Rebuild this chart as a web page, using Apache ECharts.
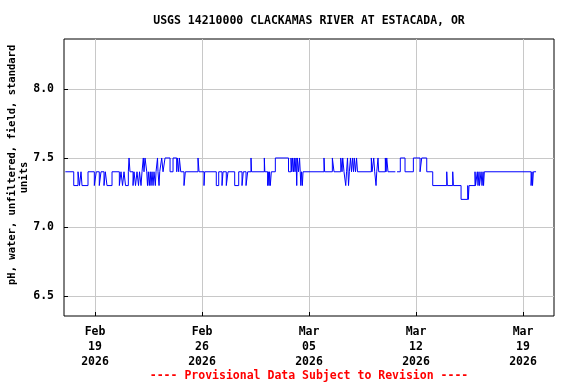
<!DOCTYPE html>
<html>
<head>
<meta charset="utf-8">
<script src="https://cdn.jsdelivr.net/npm/echarts@6/dist/echarts.min.js"></script>
<style>html,body{margin:0;padding:0;background:#fff;}#c{width:576px;height:384px;}</style>
</head>
<body>
<div id="c"></div>
<script>
// Base time: 2026-02-17 00:00; times are hours since base
const baseDate = '2026-02-17T00:00:00';
const hours = [1.4,14.6,21.3,23.7,26.0,27.6,37.0,46.9,50.0,54.7,57.4,62.1,64.2,66.8,74.7,86.2,88.8,91.2,93.5,95.9,
100.3,101.4,102.9,107.7,109.2,111.6,113.9,116.3,117.9,120.2,121.8,123.8,124.9,126.5,129.2,130.4,131.7,133.2,134.7,135.9,
137.5,139.1,140.6,142.7,143.8,146.1,146.9,148.5,149.6,152.7,154.8,157.9,165.8,170.5,176.3,177.2,179.4,180.4,182.6,187.7,
189.8,209.7,211.3,219.1,220.2,238.4,242.2,247.4,249.0,254.1,256.8,267.3,273.6,278.8,280.8,285.1,287.7,292.9,293.7,313.8,
314.6,319.1,319.9,321.2,322.0,323.2,324.8,331.1,351.8,355.7,357.0,358.1,359.7,360.8,362.0,363.6,364.7,365.6,367.5,369.1,
370.2,371.1,372.2,373.5,374.6,407.5,408.5,420.6,423.2,433.8,435.8,436.9,438.9,441.6,442.9,444.4,446.0,447.3,449.1,450.7,
452.3,453.9,455.1,457.0,458.6,460.1,481.8,482.9,485.6,487.1,489.2,490.3,492.3,493.4,503.8,504.9,506.0,508.0,519.5,520.0,
522.2,527.3,534.7,547.8,558.3,560.9,568.8,578.2,600.2,601.1,609.6,610.6,622.7,633.2,634.1,635.2,644.6,645.4,648.2,649.3,
650.9,651.7,654.1,655.6,657.2,658.0,659.2,732.6,734.1,734.9,736.2,740.4];
const phValues = [7.4,7.3,7.4,7.3,7.4,7.3,7.4,7.3,7.4,7.3,7.4,7.3,7.4,7.3,7.4,7.3,7.4,7.3,7.4,7.3,
7.4,7.5,7.4,7.3,7.4,7.3,7.4,7.3,7.4,7.3,7.4,7.5,7.4,7.5,7.4,7.3,7.4,7.3,7.4,7.3,
7.4,7.3,7.4,7.3,7.4,7.5,7.4,7.3,7.4,7.5,7.4,7.5,7.4,7.5,7.4,7.5,7.4,7.5,7.4,7.3,
7.4,7.5,7.4,7.3,7.4,7.3,7.4,7.3,7.4,7.3,7.4,7.3,7.4,7.3,7.4,7.3,7.4,7.5,7.4,7.5,
7.4,7.3,7.4,7.3,7.4,7.3,7.4,7.5,7.4,7.5,7.4,7.5,7.4,7.5,7.4,7.5,7.3,7.5,7.4,7.5,
7.4,7.3,7.4,7.3,7.4,7.5,7.4,7.5,7.4,7.5,7.4,7.5,7.4,7.3,7.4,7.5,7.3,7.4,7.5,7.4,
7.5,7.4,7.5,7.4,7.5,7.4,7.5,7.4,7.5,7.4,7.3,7.4,7.5,7.4,7.5,7.4,7.5,7.4,7.4,null,
7.4,7.5,7.4,7.5,7.4,7.5,7.4,7.3,7.4,7.3,7.4,7.3,7.2,7.3,7.2,7.3,7.4,7.3,7.4,7.3,
7.4,7.3,7.4,7.3,7.4,7.3,7.4,7.3,7.4,7.3,7.4,7.4];
const xTickDates = ['2026-02-19','2026-02-26','2026-03-05','2026-03-12','2026-03-19'];
const yTicks = [6.5, 7.0, 7.5, 8.0];
const titleText = 'USGS 14210000 CLACKAMAS RIVER AT ESTACADA, OR';
const yName = '    pH, water, unfiltered, field, standard\nunits';
const footer = '---- Provisional Data Subject to Revision ----';

const HOUR = 3600 * 1000;
const t0 = new Date(baseDate).getTime();
const seriesData = hours.map((h, i) => [t0 + h * HOUR, phValues[i]]);
const xTicks = xTickDates.map(d => new Date(d + 'T00:00:00').getTime());
const MON = ['Jan','Feb','Mar','Apr','May','Jun','Jul','Aug','Sep','Oct','Nov','Dec'];
const font = 'DejaVu Sans Mono';

const chart = echarts.init(document.getElementById('c'), null, {renderer: 'canvas'});
chart.setOption({
  animation: false,
  backgroundColor: '#fff',
  graphic: [{
    type: 'text', x: 309, y: 21,
    style: {text: titleText, fill: '#000', font: 'bold 11.5px "DejaVu Sans Mono"', align: 'center', verticalAlign: 'middle'}
  }, {
    type: 'text', x: 309, y: 376,
    style: {text: footer, fill: '#ff0000', font: 'bold 11.5px "DejaVu Sans Mono"', align: 'center', verticalAlign: 'middle'}
  }],
  grid: {left: 64, right: 22, top: 39, bottom: 68, show: true, borderColor: '#000', borderWidth: 1,
         backgroundColor: 'transparent', containLabel: false, outerBoundsMode: 'none'},
  xAxis: {
    type: 'value',
    min: t0 - 0.7 * HOUR, max: t0 + 768.6 * HOUR,
    axisLine: {show: false},
    axisTick: {show: true, customValues: xTicks, length: 4, inside: true, lineStyle: {color: '#000'}},
    axisLabel: {
      customValues: xTicks, margin: 9, lineHeight: 15,
      fontFamily: font, fontSize: 11.5, fontWeight: 'bold', color: '#000',
      formatter: v => { const d = new Date(v); return MON[d.getMonth()] + '\n' + String(d.getDate()).padStart(2,'0') + '\n' + d.getFullYear(); }
    },
    splitLine: {show: true, lineStyle: {color: '#c8c8c8', width: 1}}
  },
  yAxis: {
    type: 'value', min: 6.355, max: 8.362,
    name: yName, nameLocation: 'middle', nameRotate: 90, nameGap: 34, nameMoveOverlap: false,
    nameTextStyle: {fontFamily: font, fontSize: 10.5, fontWeight: 'bold', color: '#000', lineHeight: 12, align: 'center'},
    axisLine: {show: false},
    axisTick: {show: true, customValues: yTicks, length: 4, inside: true, lineStyle: {color: '#000'}},
    axisLabel: {customValues: yTicks, margin: 10, fontFamily: font, fontSize: 11.5, fontWeight: 'bold', color: '#000', formatter: v => v.toFixed(1)},
    splitLine: {show: true, lineStyle: {color: '#c8c8c8', width: 1}}
  },
  series: [{
    type: 'line', step: 'end', data: seriesData, showSymbol: false, connectNulls: false,
    lineStyle: {color: '#0000ff', width: 1}, itemStyle: {color: '#0000ff'}
  }]
});
</script>
</body>
</html>
